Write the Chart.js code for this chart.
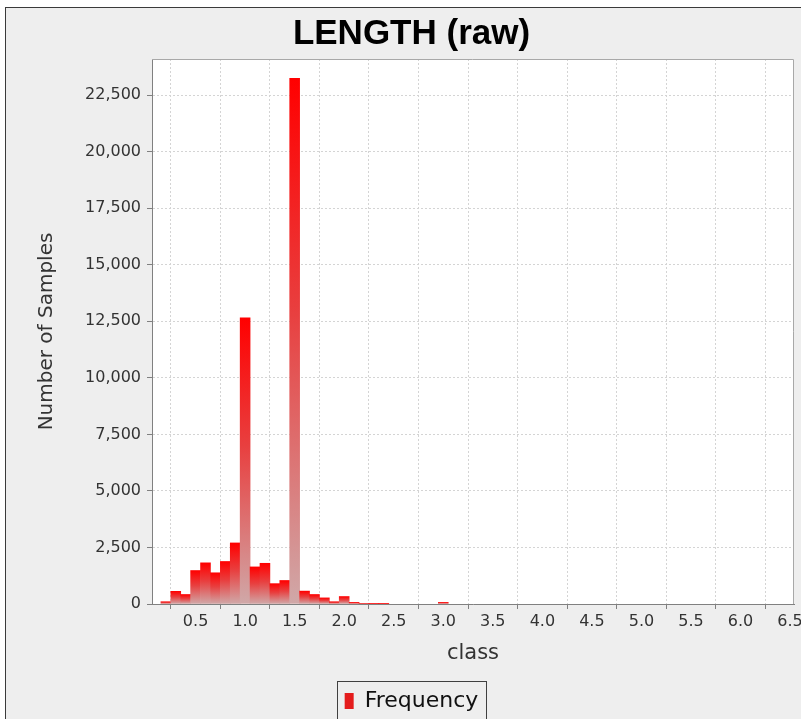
<!DOCTYPE html>
<html>
<head>
<meta charset="utf-8">
<script src="https://cdn.jsdelivr.net/npm/chart.js@4"></script>
<style>
  html, body { margin: 0; padding: 0; background: #fff; overflow: hidden; width: 801px; height: 719px; }
  #frame { position: absolute; left: 5px; top: 7px; width: 820px; height: 730px;
           border-top: 1px solid #3a3a3a; border-left: 1px solid #3a3a3a; background: #eeeeee; }
  #chart { position: absolute; left: 0; top: 0; }
</style>
</head>
<body>
<div id="frame"><canvas id="chart" width="811" height="714"></canvas></div>
<script>
// histogram bins (class value = bin centre) and counts
const classes = [0.2, 0.3, 0.4, 0.5, 0.6, 0.7, 0.8, 0.9, 1.0, 1.1, 1.2, 1.3, 1.4, 1.5,
                 1.6, 1.7, 1.8, 1.9, 2.0, 2.1, 2.2, 2.3, 2.4, 3.0];
const frequency = [100, 560, 420, 1480, 1820, 1380, 1880, 2700, 12650, 1640, 1800, 900, 1040, 23250,
                   570, 420, 270, 100, 330, 70, 30, 15, 10, 70];
const yTicks = [0, 2500, 5000, 7500, 10000, 12500, 15000, 17500, 20000, 22500];

const plotFrame = {
    id: "plotFrame",
    beforeDraw(chart) {
        const { ctx, chartArea: a } = chart;
        ctx.save();
        ctx.fillStyle = "#ffffff";
        ctx.fillRect(a.left, a.top, a.right - a.left, a.bottom - a.top);
        ctx.restore();
    },
    afterDraw(chart) {
        const { ctx, chartArea: a } = chart;
        ctx.save();
        ctx.strokeStyle = "#a8a8a8";
        ctx.lineWidth = 1;
        ctx.beginPath();
        ctx.moveTo(a.left, a.top + 0.5);
        ctx.lineTo(a.right - 0.5, a.top + 0.5);
        ctx.lineTo(a.right - 0.5, a.bottom);
        ctx.stroke();
        // legend border
        const boxes = chart.legend.legendHitBoxes;
        if (boxes && boxes.length) {
            const b = boxes[0];
            ctx.strokeStyle = "#404040";
            ctx.strokeRect(Math.round(b.left) - 7.5, Math.round(b.top) - 8.5, Math.round(b.width) + 15, 60);
        }
        ctx.restore();
    }
};

function barFill(c) {
    const chart = c.chart;
    if (!chart.chartArea || c.type !== "data") return "#ee1111";
    const y = chart.scales.y;
    const top = y.getPixelForValue(c.parsed.y);
    const bottom = y.getPixelForValue(0);
    const g = chart.ctx.createLinearGradient(0, top, 0, bottom);
    g.addColorStop(0, "#ff0000");
    g.addColorStop(0.45, "#e84040");
    g.addColorStop(1, "#d0a8a8");
    return g;
}

new Chart(document.getElementById("chart"), {
    type: "bar",
    data: {
        datasets: [{
            label: "Frequency",
            data: classes.map((c, i) => ({ x: c, y: frequency[i] })),
            backgroundColor: barFill,
            borderWidth: 0,
            barPercentage: 1,
            categoryPercentage: 1
        }]
    },
    options: {
        responsive: false,
        animation: false,
        layout: { padding: { left: 23, right: 23, top: 0, bottom: 0 } },
        plugins: {
            title: {
                display: true,
                text: "LENGTH (raw)",
                color: "#000",
                font: { family: "Liberation Sans", size: 35, weight: "bold" },
                padding: { top: 5, bottom: 4 }
            },
            legend: {
                position: "bottom",
                labels: {
                    color: "#111",
                    font: { family: "DejaVu Sans", size: 22 },
                    boxWidth: 9,
                    boxHeight: 16,
                    padding: 10,
                    generateLabels: chart => Chart.defaults.plugins.legend.labels.generateLabels(chart)
                        .map(l => Object.assign(l, { fillStyle: "#e41c1c" }))
                }
            },
            tooltip: { enabled: false }
        },
        scales: {
            x: {
                type: "linear",
                min: 0.06,
                max: 6.54,
                offset: false,
                afterFit: s => { s.height = 76; },
                ticks: {
                    stepSize: 0.5,
                    includeBounds: false,
                    color: "#333",
                    font: { family: "DejaVu Sans", size: 16 },
                    padding: 3,
                    maxRotation: 0,
                    callback: v => v.toFixed(1)
                },
                grid: {
                    color: "#d4d4d4",
                    tickLength: 5,
                    tickColor: "#808080",
                    tickBorderDash: []
                },
                border: { color: "#808080", width: 1, dash: [2, 2] },
                title: {
                    display: true,
                    text: "class",
                    color: "#333",
                    font: { family: "DejaVu Sans", size: 21 },
                    padding: { top: 4, bottom: 14 }
                }
            },
            y: {
                min: 0,
                max: 24100,
                afterFit: s => { s.width = 123; },
                afterBuildTicks: s => { s.ticks = yTicks.map(v => ({ value: v })); },
                ticks: {
                    includeBounds: false,
                    color: "#333",
                    font: { family: "DejaVu Sans", size: 16 },
                    padding: 6
                },
                grid: {
                    color: "#d4d4d4",
                    tickLength: 5,
                    tickColor: "#808080",
                    tickBorderDash: []
                },
                border: { color: "#808080", width: 1, dash: [2, 2] },
                title: {
                    display: true,
                    text: "Number of Samples",
                    color: "#333",
                    font: { family: "DejaVu Sans", size: 20 },
                    padding: { top: 6, bottom: 4 }
                }
            }
        }
    },
    plugins: [plotFrame]
});
</script>
</body>
</html>
